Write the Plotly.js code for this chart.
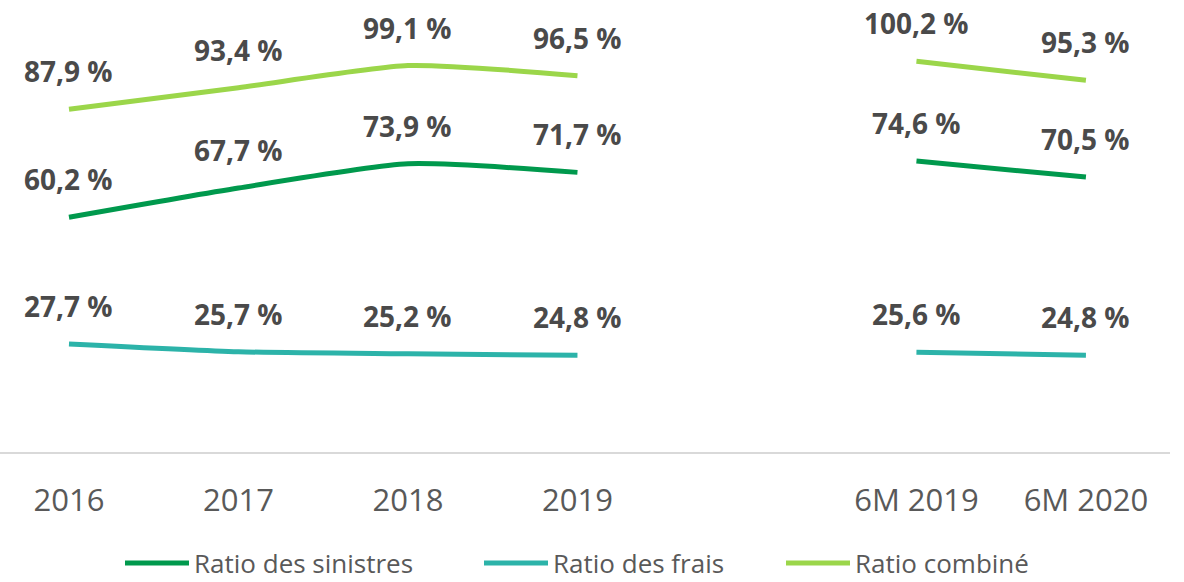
<!DOCTYPE html>
<html>
<head>
<meta charset="utf-8">
<script src="https://cdn.plot.ly/plotly-3.0.1.min.js"></script>
<style>html,body{margin:0;padding:0;background:#fff;}#chart{width:1184px;height:582px;}</style>
</head>
<body>
<div id="chart"></div>
<script>
const categories = ['2016', '2017', '2018', '2019', ' ', '6M 2019', '6M 2020'];
const seriesNames = ['Ratio des sinistres', 'Ratio des frais', 'Ratio combiné'];
const sinistres = [60.2, 67.7, 73.9, 71.7, null, 74.6, 70.5];
const frais = [27.7, 25.7, 25.2, 24.8, null, 25.6, 24.8];
const combine = [87.9, 93.4, 99.1, 96.5, null, 100.2, 95.3];
const colors = ['#00994d', '#2cb3a9', '#9bd64a'];
const legendIds = ['legend', 'legend2', 'legend3'];
const legendLeft = [120, 479, 781];

const allValues = [sinistres, frais, combine];
const traces = allValues.map((vals, i) => ({
  type: 'scatter',
  mode: 'lines',
  x: categories,
  y: vals,
  name: seriesNames[i],
  legend: legendIds[i],
  connectgaps: false,
  line: {color: colors[i], width: 5, shape: 'spline', smoothing: 0.6},
  hoverinfo: 'skip'
}));

const fmt = v => v.toFixed(1).replace('.', ',') + ' %';
const annotations = [];
allValues.forEach(vals => {
  vals.forEach((v, j) => {
    if (v === null) return;
    annotations.push({
      x: j, y: v, xref: 'x', yref: 'y',
      text: '<b>' + fmt(v) + '</b>',
      showarrow: false, yshift: 38,
      font: {family: 'Open Sans, sans-serif', size: 28, color: '#4a4a4a'}
    });
  });
});

const layout = {
  width: 1184, height: 582,
  margin: {l: 0, r: 14, t: 0, b: 130},
  paper_bgcolor: '#ffffff', plot_bgcolor: '#ffffff',
  showlegend: true,
  xaxis: {
    type: 'category', categoryorder: 'array', categoryarray: categories,
    range: [-0.407, 6.496], fixedrange: true,
    showline: true, linecolor: '#d9d9d9', linewidth: 2,
    showgrid: false, zeroline: false,
    ticks: 'outside', ticklen: 20, tickcolor: 'rgba(0,0,0,0)',
    tickfont: {family: 'Open Sans, sans-serif', size: 31, color: '#595959'}
  },
  yaxis: {range: [0, 115.9], visible: false, showgrid: false, zeroline: false, fixedrange: true},
  annotations: annotations
};
legendIds.forEach((id, i) => {
  layout[id] = {
    orientation: 'h', xref: 'container', yref: 'container',
    x: legendLeft[i] / 1184, xanchor: 'left', y: 19 / 582, yanchor: 'middle',
    font: {family: 'Open Sans, sans-serif', size: 26, color: '#595959'},
    itemwidth: 64, bgcolor: 'rgba(0,0,0,0)', borderwidth: 0
  };
});

Plotly.newPlot('chart', traces, layout, {displayModeBar: false, staticPlot: true});
</script>
</body>
</html>
